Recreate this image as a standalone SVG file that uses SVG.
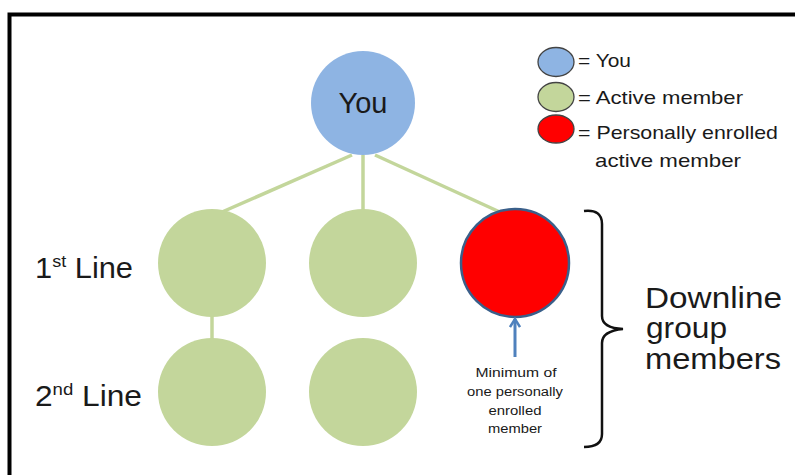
<svg xmlns="http://www.w3.org/2000/svg" width="795" height="475" viewBox="0 0 795 475">
<style>
text{font-family:"Liberation Sans",Arial,sans-serif;fill:#1a1a1a}
.green{fill:#C3D69B}
.link{stroke:#C3D69B;stroke-width:3.5;fill:none}
.leg{font-size:19px}
.small{font-size:12.5px;text-anchor:middle}
.line{font-size:29px}
.big{font-size:30px}
.key{stroke:#444;stroke-width:1.3}
</style>
<defs>
<marker id="arr" viewBox="0 0 12 12" refX="10" refY="6" markerWidth="12" markerHeight="12" markerUnits="userSpaceOnUse" orient="auto">
<path d="M2,1 L10,6 L2,11" fill="none" stroke="#4F81BD" stroke-width="2.5"/>
</marker>
</defs>
<rect x="0" y="0" width="795" height="475" fill="#fff"/>
<path d="M9.5,475 V14.5 H795" fill="none" stroke="#000" stroke-width="4"/>

<g id="connectors">
<line class="link" x1="352" y1="155" x2="222" y2="212"/>
<line class="link" x1="363" y1="155" x2="363" y2="212"/>
<line class="link" x1="375" y1="155" x2="502" y2="213"/>
<line class="link" x1="212" y1="315" x2="212" y2="340"/>
</g>

<g id="you">
<circle cx="363" cy="103" r="52" fill="#8EB4E3"/>
<text x="363" y="113" font-size="29" text-anchor="middle" fill="#000">You</text>
</g>

<g id="l1a"><circle class="green" cx="212" cy="263" r="54"/></g>
<g id="l1b"><circle class="green" cx="363" cy="263" r="54"/></g>
<g id="l1c"><circle cx="515" cy="263" r="54" fill="#FF0000" stroke="#3A5F8A" stroke-width="2.5"/></g>
<g id="l2a"><circle class="green" cx="212" cy="392" r="54"/></g>
<g id="l2b"><circle class="green" cx="363" cy="392" r="54"/></g>

<g id="arrow">
<line x1="515" y1="357" x2="515" y2="319" stroke="#4F81BD" stroke-width="3" marker-end="url(#arr)"/>
</g>

<g id="legend">
<ellipse class="key" cx="556" cy="62" rx="18" ry="14.5" fill="#8EB4E3"/>
<ellipse class="key" cx="556" cy="97" rx="18" ry="14.5" fill="#C3D69B"/>
<ellipse class="key" cx="556" cy="129" rx="18" ry="14" fill="#FF0000"/>
<text class="leg" x="578" y="67" textLength="53" lengthAdjust="spacingAndGlyphs">= You</text>
<text class="leg" x="578" y="104" textLength="165" lengthAdjust="spacingAndGlyphs">= Active member</text>
<text class="leg" x="578" y="139" textLength="200" lengthAdjust="spacingAndGlyphs">= Personally enrolled</text>
<text class="leg" x="595" y="167" textLength="146" lengthAdjust="spacingAndGlyphs">active member</text>
</g>

<g id="line-labels">
<text class="line" x="35" y="278" textLength="98" lengthAdjust="spacingAndGlyphs">1<tspan font-size="17" dy="-11">st</tspan><tspan dy="11"> Line</tspan></text>
<text class="line" x="35" y="406" textLength="107" lengthAdjust="spacingAndGlyphs">2<tspan font-size="17" dy="-11">nd</tspan><tspan dy="11"> Line</tspan></text>
</g>

<g id="note">
<text class="small" x="516" y="377" textLength="81" lengthAdjust="spacingAndGlyphs">Minimum of</text>
<text class="small" x="515" y="396" textLength="96" lengthAdjust="spacingAndGlyphs">one personally</text>
<text class="small" x="515" y="415" textLength="53" lengthAdjust="spacingAndGlyphs">enrolled</text>
<text class="small" x="515" y="433" textLength="54" lengthAdjust="spacingAndGlyphs">member</text>
</g>

<g id="brace">
<path d="M584,211 Q602,209 602,224 V316 Q602,328 623,329 Q602,331 602,343 V434 Q602,447 584,447" fill="none" stroke="#111" stroke-width="2.5"/>
<text class="big" x="645" y="308" textLength="137" lengthAdjust="spacingAndGlyphs">Downline</text>
<text class="big" x="646" y="338" textLength="81" lengthAdjust="spacingAndGlyphs">group</text>
<text class="big" x="645" y="369" textLength="136" lengthAdjust="spacingAndGlyphs">members</text>
</g>
</svg>
